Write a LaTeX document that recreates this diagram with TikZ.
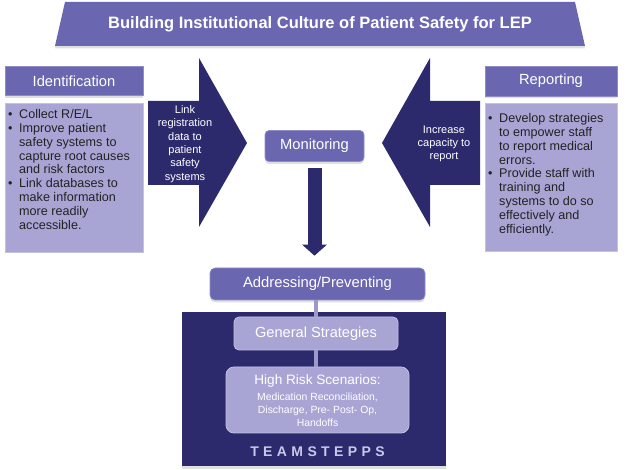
\documentclass[tikz,border=0pt]{standalone}
\usepackage{fontspec}
\setmainfont{Liberation Sans}
\usetikzlibrary{arrows.meta,shadows}
\definecolor{midc}{HTML}{6A67B0}
\definecolor{lightc}{HTML}{A8A5D5}
\definecolor{darkc}{HTML}{2C2A6D}
\definecolor{lbord}{HTML}{C3C1E4}
\definecolor{mbord}{HTML}{8F8CC8}
\definecolor{linkc}{HTML}{9D9ACB}
\definecolor{teamc}{HTML}{C9C7EA}
\definecolor{txtc}{HTML}{222222}
\newcommand{\fs}[2]{\fontsize{#1pt}{#2pt}\selectfont}
\newcommand{\bl}{\makebox[11pt][l]{\textbullet}}
\newcommand{\ind}{\hspace*{11pt}}
\begin{document}
\begin{tikzpicture}[x=1pt,y=-1pt,
  shad/.style={drop shadow={opacity=0.25, shadow xshift=0pt, shadow yshift=-2.5pt}},
  hdr/.style={rectangle, fill=midc, draw=mbord, line width=0.6pt, text=white, font=\fs{14.7}{16}, inner sep=0pt, shad},
  bodyb/.style={rectangle, fill=lightc, draw=lbord, line width=0.8pt, inner sep=0pt},
  bodyt/.style={anchor=base west, inner sep=0pt, text=txtc, font=\fs{12.6}{13.8}},
  midbox/.style={rectangle, fill=midc, draw=mbord, line width=0.6pt, text=white, font=\fs{14.7}{16}, inner sep=0pt, shad},
  litbox/.style={rectangle, fill=lightc, draw=lbord, line width=0.8pt, text=white, inner sep=0pt},
  arrt/.style={text=white, align=center, inner sep=0pt, font=\fs{11}{13.3}},
  darrow/.style={fill=darkc},
  linkl/.style={linkc, line width=4pt}
]
\useasboundingbox (0,0) rectangle (627,470);

% title
\fill[midc, shad] (65,2) -- (575,2) -- (585,46) -- (55,46) -- cycle;
\node[text=white, font=\bfseries\fs{16.5}{18}, inner sep=0pt] (title) at (320,24.5) {Building Institutional Culture of Patient Safety for LEP};

% identification
\node[hdr, minimum width=138pt, minimum height=29pt] (idh) at (74,81) {Identification};
\node[bodyb, minimum width=138pt, minimum height=149pt] (idb) at (74,177.5) {};
\node[bodyt] (idt) at (8,118.8) {\begin{tabular}[t]{@{}l@{}}\bl Collect R/E/L\\ \bl Improve patient\\ \ind safety systems to\\ \ind capture root causes\\ \ind and risk factors\\ \bl Link databases to\\ \ind make information\\ \ind more readily\\ \ind accessible.\end{tabular}};

% reporting
\node[hdr, minimum width=132pt, minimum height=30pt] (rph) at (551,81) {Reporting};
\node[bodyb, minimum width=132pt, minimum height=148pt] (rpb) at (551,177) {};
\node[bodyt] (rpt) at (488,122.8) {\begin{tabular}[t]{@{}l@{}}\bl Develop strategies\\ \ind to empower staff\\ \ind to report medical\\ \ind errors.\\ \bl Provide staff with\\ \ind training and\\ \ind systems to do so\\ \ind effectively and\\ \ind efficiently.\end{tabular}};

% side arrows
\fill[darrow] (148,101) -- (199,101) -- (199,58) -- (247,143) -- (199,227) -- (199,185) -- (148,185) -- cycle;
\node[arrt] (lat) at (185,144) {Link\\registration\\data to\\patient\\safety\\systems};
\fill[darrow] (480,101) -- (430,101) -- (430,58) -- (382,143) -- (430,227) -- (430,185) -- (480,185) -- cycle;
\node[arrt] (rat) at (444,144) {Increase\\capacity to\\report};

% monitoring
\node[midbox, minimum width=99pt, minimum height=31pt, rounded corners=4pt] (mon) at (314.5,146) {Monitoring};

% addressing
\node[midbox, minimum width=215pt, minimum height=32pt, rounded corners=5pt, font=\fs{14.8}{16}] (addr) at (317.5,284) {Addressing/Preventing};

\draw[darkc, line width=14pt, -{Triangle[length=11pt, width=24pt]}] ([yshift=-6.5pt]mon.south) -- ([yshift=12pt]mon.south |- addr.north);

% teamstepps block
\node[fill=darkc, minimum width=264pt, minimum height=154pt, inner sep=0pt, shad] (team) at (314,389) {};
\node[litbox, minimum width=164pt, minimum height=33pt, rounded corners=5pt, font=\fs{14.6}{16}] (gen) at (316,333.5) {General Strategies};
\node[litbox, minimum width=183pt, minimum height=66pt, rounded corners=8pt] (hr) at (317.5,400) {};
\draw[linkl] (gen.north) -- (gen.north |- addr.south);
\draw[linkl] (gen.south) -- (gen.south |- hr.north);
\node[text=white, inner sep=0pt, font=\fs{13.6}{15}] (hrt) at (317.5,380.7) {High Risk Scenarios:};
\node[text=white, inner sep=0pt, align=center, font=\fs{10.4}{13}] (hrs) at (317.5,409.6) {Medication Reconciliation,\\Discharge, Pre- Post- Op,\\Handoffs};
\node[text=teamc, inner sep=0pt, font=\bfseries\fs{14}{16}] (tst) at (317.5,452) {T\kern4.4pt E\kern4.4pt A\kern4.4pt M\kern4.4pt S\kern4.4pt T\kern4.4pt E\kern4.4pt P\kern4.4pt P\kern4.4pt S};
\end{tikzpicture}
\end{document}
